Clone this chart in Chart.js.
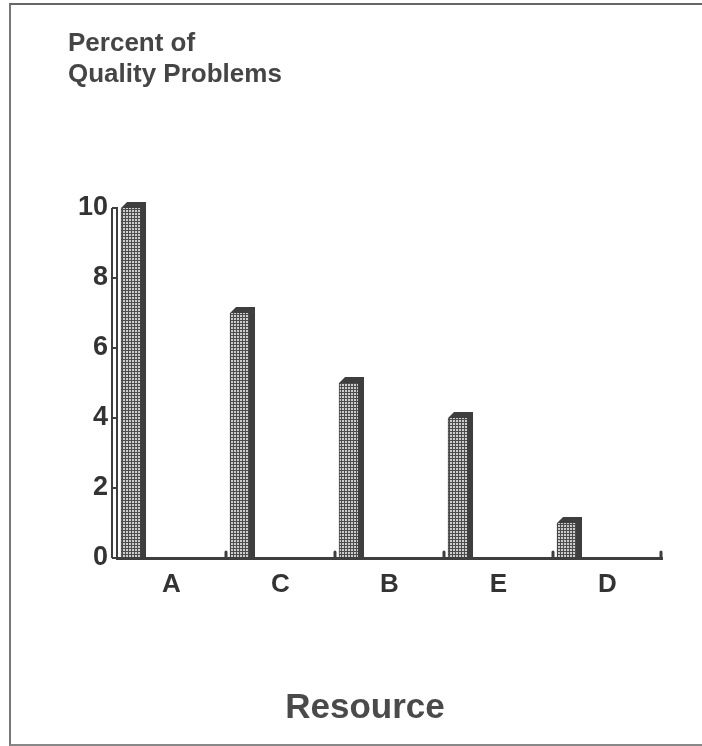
<!DOCTYPE html>
<html>
<head>
<meta charset="utf-8">
<script src="https://cdn.jsdelivr.net/npm/chart.js@4/dist/chart.umd.min.js"></script>
<style>
  html, body { margin: 0; padding: 0; background: #fff; overflow: hidden; }
  #wrap { position: relative; width: 702px; height: 746px; }
  #frame {
    position: absolute; left: 9px; top: 3px; width: 700px; height: 739px;
    border-top: 2px solid #666; border-left: 2px solid #777; border-bottom: 2px solid #888;
    pointer-events: none;
  }
  canvas { position: absolute; left: 0; top: 0; }
</style>
</head>
<body>
<div id="wrap">
  <canvas id="chart" width="702" height="746"></canvas>
  <div id="frame"></div>
</div>
<script>
// data
const resources = ['A', 'C', 'B', 'E', 'D'];
const percentProblems = [10, 7, 5, 4, 1];
const yTicks = [0, 2, 4, 6, 8, 10];

const titleLines = ['Percent of', 'Quality Problems'];
const xTitle = 'Resource';

const DARK = '#3e3e3e';
const DEPTH = 6;

// stipple fill for the bar fronts: light dots on a dark grid
function stipple() {
    const c = document.createElement('canvas');
    c.width = 3; c.height = 3;
    const g = c.getContext('2d');
    g.fillStyle = '#4c4c4c';
    g.fillRect(0, 0, 3, 3);
    g.fillStyle = '#cdcdcd';
    g.fillRect(0, 0, 2, 2);
    return g.createPattern(c, 'repeat');
}

// top and side faces of the 3D bars, the second axis rail, the little baseline ticks
const extras = {
    id: 'extras',
    afterDatasetsDraw(chart) {
        const ctx = chart.ctx;
        const meta = chart.getDatasetMeta(0);
        ctx.save();
        ctx.fillStyle = DARK;
        meta.data.forEach(bar => {
            const w = bar.width;
            const x = bar.x - w / 2;
            const y = bar.y;
            const base = bar.base;
            ctx.beginPath();
            ctx.moveTo(x, y);
            ctx.lineTo(x + DEPTH, y - DEPTH);
            ctx.lineTo(x + w + DEPTH, y - DEPTH);
            ctx.lineTo(x + w + DEPTH, base);
            ctx.lineTo(x + w, base);
            ctx.lineTo(x + w, y);
            ctx.closePath();
            ctx.fill();
        });
        ctx.restore();
    },
    afterDraw(chart) {
        const ctx = chart.ctx;
        const y = chart.scales.y;
        const x = chart.scales.x;
        ctx.save();
        ctx.strokeStyle = DARK;
        ctx.lineWidth = 2;
        ctx.beginPath();
        ctx.moveTo(y.right - 5, y.top);
        ctx.lineTo(y.right - 5, y.bottom);
        ctx.stroke();

        ctx.lineWidth = 3;
        ctx.lineCap = 'round';
        const n = resources.length;
        for (let i = 1; i <= n; i++) {
            const px = i < n ? (x.getPixelForValue(i - 1) + x.getPixelForValue(i)) / 2 : x.right - 1;
            ctx.beginPath();
            ctx.moveTo(px, x.top);
            ctx.lineTo(px, x.top - 6);
            ctx.stroke();
        }
        ctx.restore();
    }
};

Chart.defaults.font.family = "'Liberation Sans', Arial, sans-serif";
Chart.defaults.font.weight = 'bold';

const ctx = document.getElementById('chart').getContext('2d');
new Chart(ctx, {
    type: 'bar',
    data: {
        labels: resources,
        datasets: [{
            data: percentProblems.map((v, i) => ({ x: i, y: v })),
            xAxisID: 'xb',
            backgroundColor: stipple(),
            borderColor: DARK,
            borderWidth: { left: 1, top: 0, right: 0, bottom: 0 },
            barThickness: 19
        }]
    },
    plugins: [extras],
    options: {
        responsive: false,
        animation: false,
        layout: { padding: { left: 68, right: 40, top: 0, bottom: 0 } },
        plugins: {
            legend: { display: false },
            tooltip: { enabled: false },
            title: {
                display: true,
                text: titleLines,
                align: 'start',
                color: '#454545',
                font: { size: 26, weight: 'bold', lineHeight: 1.19 },
                padding: { top: 28, bottom: 118 }
            },
            subtitle: {
                display: true,
                position: 'bottom',
                text: xTitle,
                color: '#4a4a4a',
                font: { size: 35, weight: 'bold', lineHeight: 1.2 },
                padding: { top: 10, bottom: 17 }
            }
        },
        scales: {
            x: {
                type: 'category',
                offset: true,
                grid: { display: true, drawOnChartArea: false, drawTicks: false },
                border: { display: true, color: DARK, width: 3 },
                ticks: { color: '#333', font: { size: 26, weight: 'bold' }, padding: 11 },
                afterFit(s) { s.height = 119; }
            },
            xb: {
                type: 'linear',
                display: false,
                offset: false,
                min: -0.124,
                max: 4.876
            },
            y: {
                min: 0,
                max: 10,
                afterBuildTicks(s) { s.ticks = yTicks.map(v => ({ value: v })); },
                grid: { drawOnChartArea: false, drawTicks: true, tickLength: 5, color: DARK, lineWidth: 2 },
                border: { display: true, color: DARK, width: 2 },
                ticks: { color: '#333', font: { size: 27, weight: 'bold' }, padding: 4 },
                afterFit(s) { s.width = 49; }
            }
        }
    }
});
</script>
</body>
</html>
